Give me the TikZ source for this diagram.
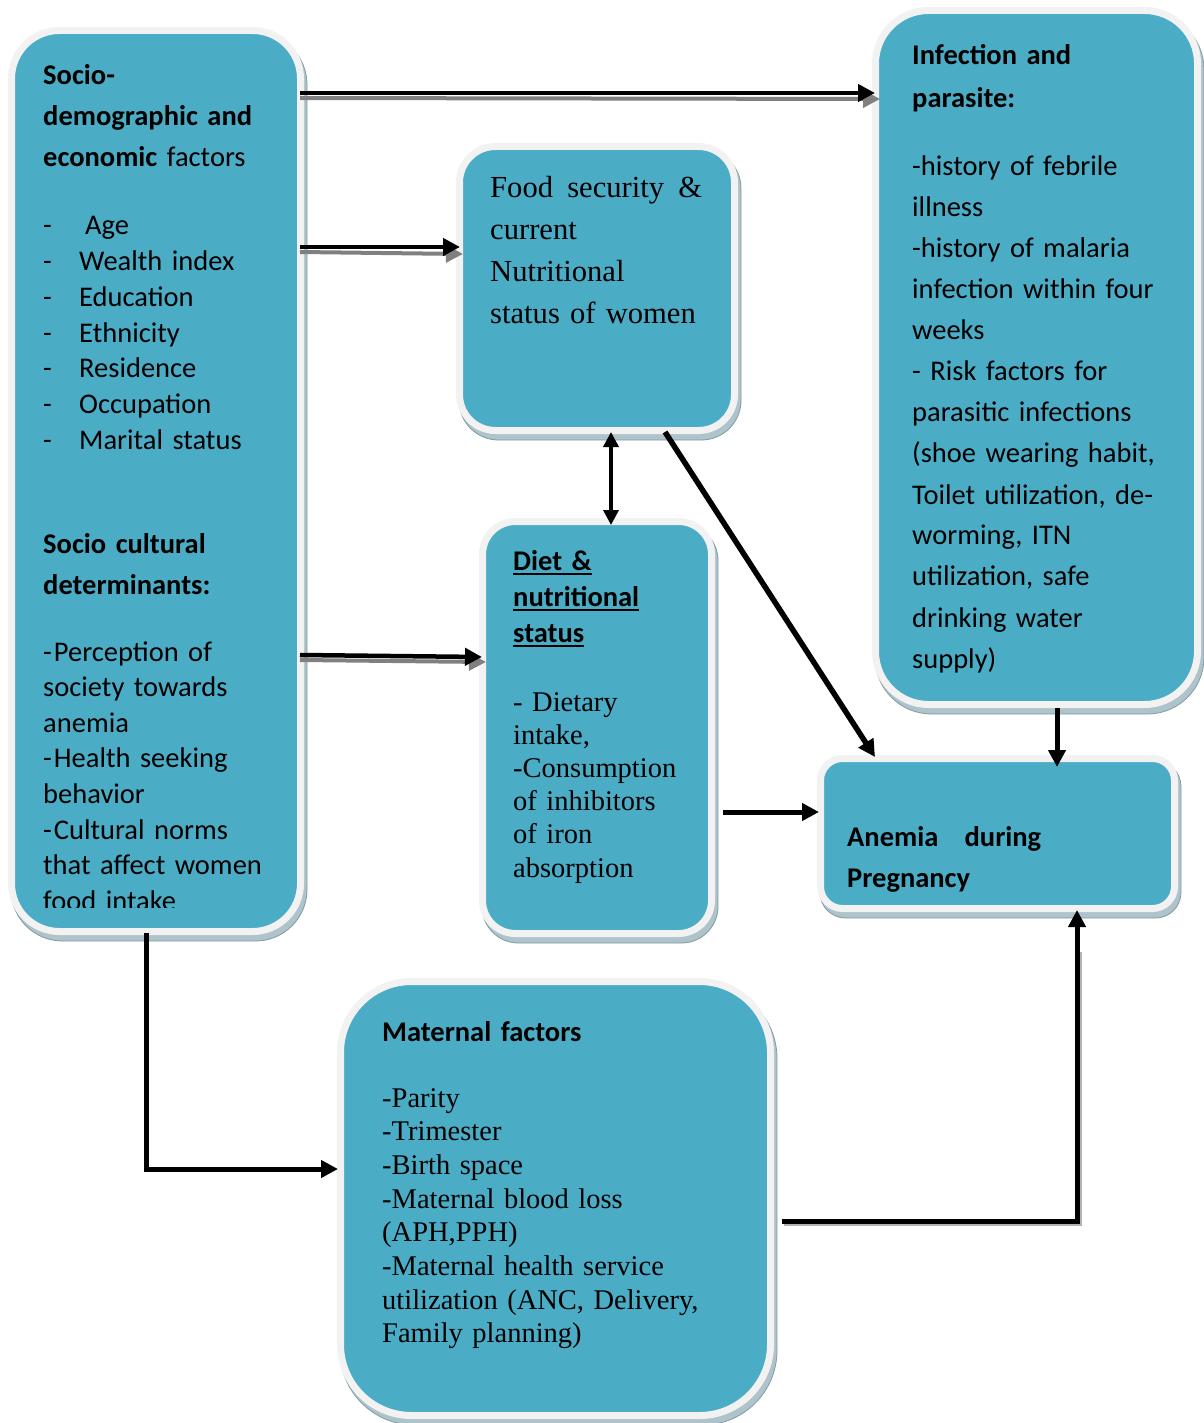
\documentclass[tikz,border=0pt]{standalone}
\usepackage{fontspec}
\setmainfont{Carlito}
\newfontfamily\tnr{Liberation Serif}
\usetikzlibrary{arrows.meta,backgrounds,calc}
\definecolor{teal1}{HTML}{4BACC6}
\definecolor{frame1}{HTML}{F2F2F2}
\definecolor{shad1}{HTML}{AFC3CA}
\definecolor{shad2}{HTML}{7F9BA5}
\newcommand\myul[1]{\setbox0\hbox{#1}\rlap{\rule[-5pt]{\wd0}{2pt}}\box0}
\newcommand\dash{\makebox[36pt][l]{-}}
\begin{document}
\begin{tikzpicture}[x=1pt,y=-1pt,
 box/.style={draw=frame1, fill=teal1, line width=7pt, inner sep=0pt},
 shadowbox/.style={fill=shad1, draw=shad2, line width=0.8pt},
 txt/.style={anchor=base west, inner sep=0pt, text width=420pt, align=left},
 cal/.style={txt, font=\fontsize{28.5}{#1}\selectfont},
 ser/.style={txt, font=\tnr\fontsize{28.5}{#1}\selectfont},
 serbig/.style={txt, font=\tnr\fontsize{30.6}{#1}\selectfont},
 arr/.style={draw=black, line width=#1, -{Triangle[length=17pt,width=17pt]}},
 sharr/.style={draw=gray, line width=4pt, -{Triangle[length=17pt,width=17pt]}},
]
\useasboundingbox (0,0) rectangle (1203,1423);

% boxes
\node[box, minimum width=289pt, minimum height=901pt, rounded corners=48pt] (b1) at (156,481) {};
\node[box, minimum width=275pt, minimum height=284pt, rounded corners=36pt] (food) at (597,288.5) {};
\node[box, minimum width=322pt, minimum height=694pt, rounded corners=53pt] (inf) at (1036.5,357.5) {};
\node[box, minimum width=229pt, minimum height=412pt, rounded corners=33pt] (diet) at (597,727.5) {};
\node[box, minimum width=354pt, minimum height=150pt, rounded corners=22pt] (anemia) at (997.5,833.5) {};
\node[box, minimum width=430pt, minimum height=434pt, rounded corners=71pt] (mat) at (555.5,1198.5) {};

\begin{scope}[on background layer]
\foreach \n/\r in {b1/51.5, food/39.5, inf/56.5, diet/36.5, anemia/25.5, mat/74.5}{
  \path[shadowbox, rounded corners=\r pt] ($(\n.south west)+(3,6)$) rectangle ($(\n.north east)+(3,6)$);
}
\end{scope}

% texts: socio-demographic box
\node[cal=41] (t1a) at (43,85) {\textbf{Socio-}\\\textbf{demographic and}\\\textbf{economic} factors};
\node[cal=35.7] (t1b) at (43,235) {\dash\hspace{6pt}Age\\\dash Wealth index\\\dash Education\\\dash Ethnicity\\\dash Residence\\\dash Occupation\\\dash Marital status};
\node[cal=41] (t1c) at (43,553) {\textbf{Socio cultural}\\\textbf{determinants:}};
\begin{scope}
\clip (0,0) rectangle (1203,907);
\node[cal=35.6] (t1d) at (43,661) {-\hspace{2pt}Perception of\\society towards\\anemia\\-\hspace{2pt}Health seeking\\behavior\\-\hspace{2pt}Cultural norms\\that affect women\\food intake};
\end{scope}

% food security
\node[serbig=41.8] (t2) at (490,198) {\hbox to 212pt{Food\hfill security\hfill\&}\\current\\Nutritional\\status of women};

% infection
\node[cal=43] (t3a) at (912,65) {\textbf{Infection and}\\\textbf{parasite:}};
\node[cal=41] (t3b) at (912,176) {-history of febrile\\illness\\-history of malaria\\infection within four\\weeks\\- Risk factors for\\parasitic infections\\(shoe wearing habit,\\Toilet utilization, de-\\worming, ITN\\utilization, safe\\drinking water\\supply)};

% diet
\node[cal=36] (t4a) at (513,570) {\textbf{\myul{Diet \&}}\\\textbf{\myul{nutritional}}\\\textbf{\myul{status}}};
\node[ser=33.2] (t4b) at (513,711) {- Dietary\\intake,\\-Consumption\\of inhibitors\\of iron\\absorption};

% anemia
\node[cal=41] (t5) at (847,846) {\textbf{\hbox to 194pt{Anemia\hfill during}}\\\textbf{Pregnancy}};

% maternal
\node[cal=41] (t6a) at (382,1041) {\textbf{Maternal factors}};
\node[ser=33.7] (t6b) at (382,1107) {-Parity\\-Trimester\\-Birth space\\-Maternal blood loss\\(APH,PPH)\\-Maternal health service\\utilization (ANC, Delivery,\\Family planning)};

% connectors
\coordinate (p1) at (300,93);
\coordinate (p2) at (300,247);
\coordinate (p3) at (300,655);
\coordinate (p4) at (611,0);
\coordinate (p5) at (665,0);
\coordinate (p5b) at (875,0);
\coordinate (p6) at (1057,0);
\coordinate (p7) at (723,812);
\coordinate (p8) at (146,0);
\coordinate (p8b) at (0,1169);
\coordinate (p9) at (0,1221);
\coordinate (p9b) at (1077,0);

\draw[sharr] ($(p1)+(0,5)$) -- ($(p1 -| inf.west)+(8,6)$);
\draw[arr=4.5pt] (p1) -- ($(p1 -| inf.west)+(3,0)$);
\draw[sharr] ($(p2)+(0,5)$) -- ($(p2 -| food.west)+(7,7)$);
\draw[arr=4.5pt] (p2) -- ($(p2 -| food.west)+(4,0)$);
\draw[sharr] ($(p3)+(0,5)$) -- ($(p3 -| diet.west)+(7,7)$);
\draw[arr=4.5pt] (p3) -- ($(p3 -| diet.west)+(3,2)$);

\draw[line width=3.5pt, {Triangle[length=15pt,width=15pt]}-{Triangle[length=15pt,width=15pt]}]
  ($(p4 |- food.south)+(0,-2)$) -- ($(p4 |- diet.north)+(0,7)$);
\draw[arr=5.5pt] ($(p5 |- food.south)+(0,-2)$) -- ($(p5b |- anemia.north)+(0,2)$);
\draw[arr=5pt] (p6 |- inf.south) -- ($(p6 |- anemia.north)+(0,12)$);
\draw[arr=5pt] (p7) -- ($(p7 -| anemia.west)+(2,0)$);
\draw[arr=5pt] ($(p8 |- b1.south)+(0,-2)$) |- ($(p8b -| mat.west)+(1,0)$);
\draw[draw=gray!60, line width=5pt] ($(p9 -| mat.east)+(10,2)$) -| ($(p9b |- anemia.south)+(2,40)$);
\draw[arr=5pt] ($(p9 -| mat.east)+(8,0)$) -| ($(p9b |- anemia.south)+(0,-2)$);
\end{tikzpicture}
\end{document}
